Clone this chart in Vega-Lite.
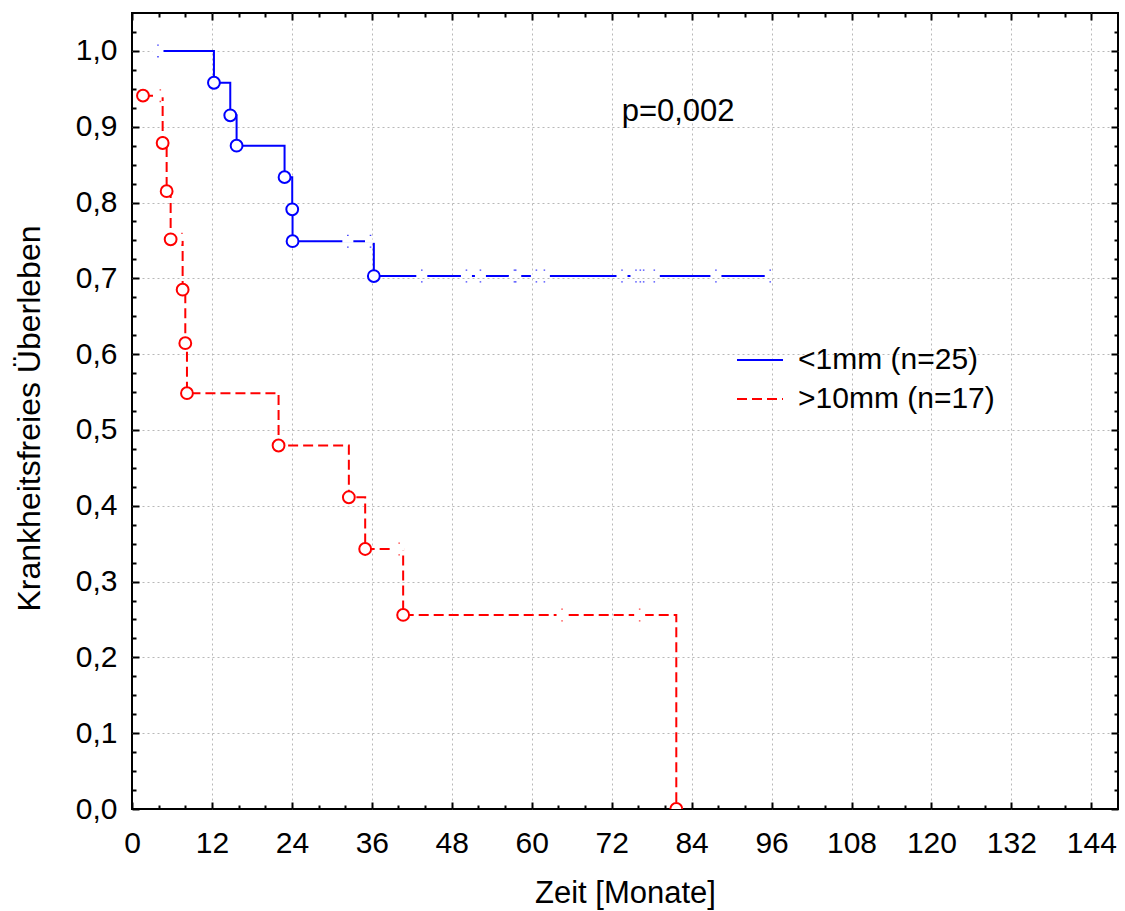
{
  "$schema": "https://vega.github.io/schema/vega-lite/v6.json",
  "width": 986,
  "height": 796,
  "autosize": {"type": "none"},
  "padding": {"left": 132, "top": 13, "right": 7, "bottom": 102},
  "background": "white",
  "config": {
    "view": {"stroke": "black", "strokeWidth": 2},
    "font": "Liberation Sans"
  },
  "datasets": {
    "lines": [
      {"group": "<1mm (n=25)", "t": 3.9, "s": 1.0},
      {"group": "<1mm (n=25)", "t": 12.3, "s": 0.958},
      {"group": "<1mm (n=25)", "t": 14.75, "s": 0.915},
      {"group": "<1mm (n=25)", "t": 15.7, "s": 0.875},
      {"group": "<1mm (n=25)", "t": 22.9, "s": 0.8335},
      {"group": "<1mm (n=25)", "t": 24.05, "s": 0.791},
      {"group": "<1mm (n=25)", "t": 24.1, "s": 0.749},
      {"group": "<1mm (n=25)", "t": 36.3, "s": 0.703},
      {"group": "<1mm (n=25)", "t": 95.8, "s": 0.703},
      {"group": ">10mm (n=17)", "t": 1.65, "s": 0.941},
      {"group": ">10mm (n=17)", "t": 4.6, "s": 0.8785},
      {"group": ">10mm (n=17)", "t": 5.2, "s": 0.815},
      {"group": ">10mm (n=17)", "t": 5.8, "s": 0.7515},
      {"group": ">10mm (n=17)", "t": 7.6, "s": 0.685},
      {"group": ">10mm (n=17)", "t": 8.0, "s": 0.6145},
      {"group": ">10mm (n=17)", "t": 8.25, "s": 0.5485},
      {"group": ">10mm (n=17)", "t": 22.0, "s": 0.4795},
      {"group": ">10mm (n=17)", "t": 32.55, "s": 0.4112},
      {"group": ">10mm (n=17)", "t": 35.0, "s": 0.343},
      {"group": ">10mm (n=17)", "t": 40.7, "s": 0.256},
      {"group": ">10mm (n=17)", "t": 81.7, "s": 0.0}
    ],
    "events": [
      {"group": "<1mm (n=25)", "t": 12.3, "s": 0.958},
      {"group": "<1mm (n=25)", "t": 14.75, "s": 0.915},
      {"group": "<1mm (n=25)", "t": 15.7, "s": 0.875},
      {"group": "<1mm (n=25)", "t": 22.9, "s": 0.8335},
      {"group": "<1mm (n=25)", "t": 24.05, "s": 0.791},
      {"group": "<1mm (n=25)", "t": 24.1, "s": 0.749},
      {"group": "<1mm (n=25)", "t": 36.3, "s": 0.703},
      {"group": ">10mm (n=17)", "t": 1.65, "s": 0.941},
      {"group": ">10mm (n=17)", "t": 4.6, "s": 0.8785},
      {"group": ">10mm (n=17)", "t": 5.2, "s": 0.815},
      {"group": ">10mm (n=17)", "t": 5.8, "s": 0.7515},
      {"group": ">10mm (n=17)", "t": 7.6, "s": 0.685},
      {"group": ">10mm (n=17)", "t": 8.0, "s": 0.6145},
      {"group": ">10mm (n=17)", "t": 8.25, "s": 0.5485},
      {"group": ">10mm (n=17)", "t": 22.0, "s": 0.4795},
      {"group": ">10mm (n=17)", "t": 32.55, "s": 0.4112},
      {"group": ">10mm (n=17)", "t": 35.0, "s": 0.343},
      {"group": ">10mm (n=17)", "t": 40.7, "s": 0.256},
      {"group": ">10mm (n=17)", "t": 81.7, "s": 0.0}
    ],
    "censored": [
      {"group": "<1mm (n=25)", "t": 3.9, "s": 1.0},
      {"group": "<1mm (n=25)", "t": 32.4, "s": 0.749},
      {"group": "<1mm (n=25)", "t": 35.8, "s": 0.749},
      {"group": "<1mm (n=25)", "t": 43.5, "s": 0.703},
      {"group": "<1mm (n=25)", "t": 50.2, "s": 0.703},
      {"group": "<1mm (n=25)", "t": 52.3, "s": 0.703},
      {"group": "<1mm (n=25)", "t": 57.4, "s": 0.703},
      {"group": "<1mm (n=25)", "t": 57.6, "s": 0.703},
      {"group": "<1mm (n=25)", "t": 60.7, "s": 0.703},
      {"group": "<1mm (n=25)", "t": 61.9, "s": 0.703},
      {"group": "<1mm (n=25)", "t": 73.55, "s": 0.703},
      {"group": "<1mm (n=25)", "t": 75.65, "s": 0.703},
      {"group": "<1mm (n=25)", "t": 76.3, "s": 0.703},
      {"group": "<1mm (n=25)", "t": 76.8, "s": 0.703},
      {"group": "<1mm (n=25)", "t": 78.4, "s": 0.703},
      {"group": "<1mm (n=25)", "t": 87.65, "s": 0.703},
      {"group": "<1mm (n=25)", "t": 95.8, "s": 0.703},
      {"group": ">10mm (n=17)", "t": 4.25, "s": 0.941},
      {"group": ">10mm (n=17)", "t": 7.5, "s": 0.7515},
      {"group": ">10mm (n=17)", "t": 40.1, "s": 0.343},
      {"group": ">10mm (n=17)", "t": 64.55, "s": 0.256},
      {"group": ">10mm (n=17)", "t": 76.2, "s": 0.256}
    ],
    "note": [{"label": "p=0,002", "t": 73.5, "s": 0.9075}]
  },
  "resolve": {"axis": {"x": "independent", "y": "independent"}},
  "layer": [
    {
      "data": {"name": "lines"},
      "mark": {"type": "line", "interpolate": "step-after", "strokeWidth": 2},
      "encoding": {
        "x": {
          "field": "t", "type": "quantitative",
          "scale": {"domain": [0, 148], "nice": false, "zero": false},
          "axis": {
            "orient": "bottom",
            "values": [0,4,8,12,16,20,24,28,32,36,40,44,48,52,56,60,64,68,72,76,80,84,88,92,96,100,104,108,112,116,120,124,128,132,136,140,144],
            "format": "d",
            "labelExpr": "datum.value % 12 === 0 ? datum.label : ''",
            "labelFontSize": 30, "labelFont": "Liberation Sans", "labelColor": "black",
            "labelPadding": 26.5, "labelFlush": false, "labelOverlap": false,
            "tickSize": {"condition": {"test": "datum.value % 12 === 0", "value": -7}, "value": -4},
            "tickWidth": 2, "tickColor": "black",
            "domain": false,
            "grid": true,
            "gridColor": {"condition": {"test": "datum.value % 12 === 0 && datum.value > 0", "value": "#b8b8b8"}, "value": "rgba(0,0,0,0)"},
            "gridDash": [2, 3], "gridWidth": 1,
            "title": "Zeit [Monate]",
            "titleFontSize": 31, "titleFont": "Liberation Sans", "titleFontWeight": "normal", "titleColor": "black",
            "titleX": 493, "titleY": 93.5, "titleBaseline": "alphabetic", "titleAlign": "center"
          }
        },
        "y": {
          "field": "s", "type": "quantitative",
          "scale": {"domain": [0, 1.05], "nice": false, "zero": false},
          "axis": {
            "orient": "left",
            "values": [0,0.025,0.05,0.075,0.1,0.125,0.15,0.175,0.2,0.225,0.25,0.275,0.3,0.325,0.35,0.375,0.4,0.425,0.45,0.475,0.5,0.525,0.55,0.575,0.6,0.625,0.65,0.675,0.7,0.725,0.75,0.775,0.8,0.825,0.85,0.875,0.9,0.925,0.95,0.975,1,1.025],
            "labelExpr": "abs(datum.value*10 - round(datum.value*10)) < 0.001 ? replace(format(datum.value, '.1f'), '.', ',') : ''",
            "labelFontSize": 30, "labelFont": "Liberation Sans", "labelColor": "black",
            "labelPadding": 22, "labelFlush": false, "labelOverlap": false,
            "tickSize": {"condition": {"test": "abs(datum.value*10 - round(datum.value*10)) < 0.001", "value": -7}, "value": -4},
            "tickWidth": 2, "tickColor": "black",
            "domain": false,
            "grid": true,
            "gridColor": {"condition": {"test": "abs(datum.value*10 - round(datum.value*10)) < 0.001 && datum.value > 0", "value": "#b8b8b8"}, "value": "rgba(0,0,0,0)"},
            "gridDash": [2, 3], "gridWidth": 1,
            "title": "Krankheitsfreies Überleben",
            "titleFontSize": 32, "titleFont": "Liberation Sans", "titleFontWeight": "normal", "titleColor": "black",
            "titleX": -92.5, "titleY": 405, "titleBaseline": "alphabetic", "titleAlign": "center", "titleAngle": -90
          }
        },
        "color": {
          "field": "group", "type": "nominal",
          "scale": {"domain": ["<1mm (n=25)", ">10mm (n=17)"], "range": ["#0000ff", "#ff0000"]},
          "legend": {
            "orient": "none", "legendX": 604, "legendY": 323, "title": null,
            "symbolType": "stroke", "symbolSize": 2116, "symbolStrokeWidth": 2,
            "labelFontSize": 30, "labelFont": "Liberation Sans", "labelColor": "black",
            "labelOffset": 14, "rowPadding": -3, "padding": 0, "labelLimit": 0
          }
        },
        "strokeDash": {
          "field": "group", "type": "nominal",
          "scale": {"domain": ["<1mm (n=25)", ">10mm (n=17)"], "range": [[1, 0], [10, 5]]},
          "legend": {
            "orient": "none", "legendX": 604, "legendY": 323, "title": null,
            "symbolType": "stroke", "symbolSize": 2116, "symbolStrokeWidth": 2,
            "labelFontSize": 30, "labelFont": "Liberation Sans", "labelColor": "black",
            "labelOffset": 14, "rowPadding": -3, "padding": 0, "labelLimit": 0
          }
        }
      }
    },
    {
      "data": {"name": "censored"},
      "mark": {"type": "point", "shape": "M -1 -0.3 L 1 -0.3 L 1 0.3 L -1 0.3 Z", "filled": true, "fill": "white", "opacity": 1, "strokeWidth": 0, "size": 121},
      "encoding": {
        "x": {"field": "t", "type": "quantitative", "axis": null},
        "y": {"field": "s", "type": "quantitative", "axis": null}
      }
    },
    {
      "data": {"name": "censored"},
      "mark": {"type": "point", "shape": "M -0.12 -1 L 0.12 -1 L 0.12 -0.8 L -0.12 -0.8 Z M -0.12 0.8 L 0.12 0.8 L 0.12 1 L -0.12 1 Z", "filled": true, "opacity": 0.75, "strokeWidth": 0, "size": 169},
      "encoding": {
        "x": {"field": "t", "type": "quantitative", "axis": null},
        "y": {"field": "s", "type": "quantitative", "axis": null},
        "fill": {
          "field": "group", "type": "nominal",
          "scale": {"domain": ["<1mm (n=25)", ">10mm (n=17)"], "range": ["#0000ff", "#ff0000"]},
          "legend": null
        }
      }
    },
    {
      "data": {"name": "events"},
      "mark": {"type": "point", "shape": "circle", "fill": "white", "filled": false, "opacity": 1, "strokeWidth": 2, "size": 140, "clip": true},
      "encoding": {
        "x": {"field": "t", "type": "quantitative", "axis": null},
        "y": {"field": "s", "type": "quantitative", "axis": null},
        "stroke": {
          "field": "group", "type": "nominal",
          "scale": {"domain": ["<1mm (n=25)", ">10mm (n=17)"], "range": ["#0000ff", "#ff0000"]},
          "legend": null
        }
      }
    },
    {
      "data": {"name": "note"},
      "mark": {"type": "text", "align": "left", "baseline": "alphabetic", "fontSize": 31, "font": "Liberation Sans", "color": "black"},
      "encoding": {
        "text": {"field": "label"},
        "x": {
          "field": "t", "type": "quantitative",
          "axis": {
            "orient": "top",
            "values": [0,4,8,12,16,20,24,28,32,36,40,44,48,52,56,60,64,68,72,76,80,84,88,92,96,100,104,108,112,116,120,124,128,132,136,140,144],
            "labels": false, "domain": false, "grid": false, "title": null,
            "tickSize": {"condition": {"test": "datum.value % 12 === 0", "value": -7}, "value": -4},
            "tickWidth": 2, "tickColor": "black"
          }
        },
        "y": {
          "field": "s", "type": "quantitative",
          "axis": {
            "orient": "right",
            "values": [0,0.025,0.05,0.075,0.1,0.125,0.15,0.175,0.2,0.225,0.25,0.275,0.3,0.325,0.35,0.375,0.4,0.425,0.45,0.475,0.5,0.525,0.55,0.575,0.6,0.625,0.65,0.675,0.7,0.725,0.75,0.775,0.8,0.825,0.85,0.875,0.9,0.925,0.95,0.975,1,1.025],
            "labels": false, "domain": false, "grid": false, "title": null,
            "tickSize": {"condition": {"test": "abs(datum.value*10 - round(datum.value*10)) < 0.001", "value": -7}, "value": -4},
            "tickWidth": 2, "tickColor": "black"
          }
        }
      }
    }
  ]
}
